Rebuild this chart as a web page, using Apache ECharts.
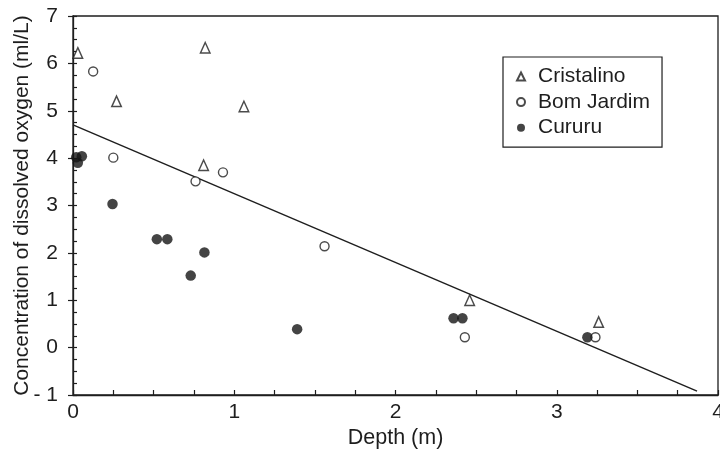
<!DOCTYPE html>
<html>
<head>
<meta charset="utf-8">
<script src="https://cdn.jsdelivr.net/npm/echarts@6/dist/echarts.min.js"></script>
<style>html,body{margin:0;padding:0;background:#fff;}#c{width:720px;height:451px;}</style>
</head>
<body>
<div id="c"></div>
<script>
var cristalino = [[0.03,6.22],[0.27,5.2],[0.82,6.33],[0.81,3.85],[1.06,5.09],[2.46,1.0],[3.26,0.54]];
var bomJardim = [[0.125,5.83],[0.25,4.01],[0.76,3.51],[0.93,3.7],[1.56,2.14],[2.43,0.22],[3.24,0.22]];
var cururu = [[0.02,4.02],[0.055,4.04],[0.03,3.9],[0.245,3.03],[0.52,2.29],[0.585,2.29],[0.73,1.52],[0.815,2.01],[1.39,0.39],[2.36,0.62],[2.415,0.62],[3.19,0.22]];
var trendLine = [[0,4.7],[3.87,-0.92]];
var seriesNames = ['Cristalino','Bom Jardim','Cururu'];
var xTitle = 'Depth (m)';
var yTitle = 'Concentration of dissolved oxygen (ml/L)';

var ink = '#1e1e1e';
var font = 'Liberation Sans, Arial, sans-serif';
var chart = echarts.init(document.getElementById('c'));
chart.setOption({
  animation: false,
  backgroundColor: '#fff',
  grid: {left: 73, right: 2, top: 16, bottom: 56, outerBoundsMode: 'none', containLabel: false,
    show: true, borderColor: ink, borderWidth: 1.3, backgroundColor: 'transparent'},
  legend: {
    data: seriesNames,
    left: 503, top: 57,
    orient: 'vertical',
    padding: [9, 12, 9, 13],
    itemGap: 4.6,
    itemWidth: 8, itemHeight: 8,
    borderColor: ink, borderWidth: 1.2,
    textStyle: {fontFamily: font, fontSize: 21, color: ink, padding: [0,0,0,8]}
  },
  xAxis: {
    type: 'value', min: 0, max: 4, interval: 1,
    name: xTitle, nameLocation: 'middle', nameGap: 32, nameMoveOverlap: false,
    nameTextStyle: {fontFamily: font, fontSize: 21.5, color: ink},
    axisLine: {show: true, onZero: false, lineStyle: {color: ink, width: 1.3}},
    axisTick: {show: true, inside: true, length: 5, lineStyle: {color: ink, width: 1.2}},
    minorTick: {show: true, splitNumber: 4, length: 5, lineStyle: {color: ink, width: 1.2}},
    axisLabel: {fontFamily: font, fontSize: 21, color: ink, margin: 7},
    splitLine: {show: false}
  },
  yAxis: [{
    type: 'value', min: -1, max: 7, interval: 1, position: 'left',
    name: yTitle, nameLocation: 'middle', nameGap: 40, nameRotate: 90, nameMoveOverlap: false,
    nameTextStyle: {fontFamily: font, fontSize: 21, color: ink},
    axisLine: {show: true, onZero: false, lineStyle: {color: ink, width: 1.3}},
    axisTick: {show: true, inside: false, length: 5, lineStyle: {color: ink, width: 1.2}},
    axisLabel: {fontFamily: font, fontSize: 21, color: ink, margin: 15,
      formatter: function (v) { return v < 0 ? '- ' + Math.abs(v) : String(v); }},
    splitLine: {show: false}
  }, {
    type: 'value', min: -1, max: 7, interval: 1, position: 'left',
    axisLine: {show: false, onZero: false},
    axisTick: {show: true, inside: true, length: 4, lineStyle: {color: ink, width: 1.2}},
    minorTick: {show: true, splitNumber: 4, length: 4, lineStyle: {color: ink, width: 1.2}},
    axisLabel: {show: false},
    splitLine: {show: false}
  }],
  series: [
    {name: seriesNames[0], type: 'scatter', data: cristalino, symbol: 'triangle', symbolSize: [9.5, 10.5],
      itemStyle: {color: '#fff', borderColor: ink, borderWidth: 1.5}, z: 3},
    {name: seriesNames[1], type: 'scatter', data: bomJardim, symbol: 'circle', symbolSize: 9,
      itemStyle: {color: '#fff', borderColor: ink, borderWidth: 1.4}, z: 3},
    {name: seriesNames[2], type: 'scatter', data: cururu, symbol: 'circle', symbolSize: 10.5,
      itemStyle: {color: '#151515', borderColor: '#151515', borderWidth: 0}, z: 4},
    {name: 'fit', type: 'line', data: trendLine, showSymbol: false, symbol: 'none',
      lineStyle: {color: ink, width: 1.4}, z: 2, silent: true}
  ]
});
</script>
</body>
</html>
